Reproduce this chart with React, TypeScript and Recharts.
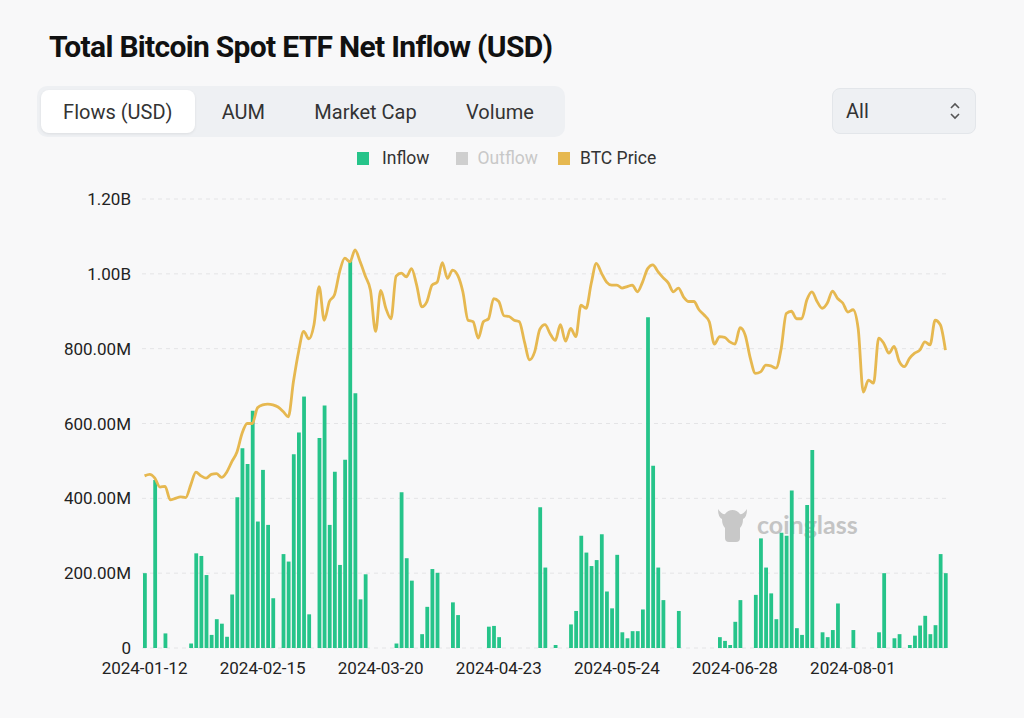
import { ComposedChart, Bar, Line, XAxis, YAxis, CartesianGrid } from "recharts";

// trading days, 2024-01-12 .. 2024-08-27
const dates = [
  "2024-01-12", "2024-01-16", "2024-01-17", "2024-01-18", "2024-01-19",
  "2024-01-22", "2024-01-23", "2024-01-24", "2024-01-25", "2024-01-26",
  "2024-01-29", "2024-01-30", "2024-01-31", "2024-02-01", "2024-02-02",
  "2024-02-05", "2024-02-06", "2024-02-07", "2024-02-08", "2024-02-09",
  "2024-02-12", "2024-02-13", "2024-02-14", "2024-02-15", "2024-02-16",
  "2024-02-20", "2024-02-21", "2024-02-22", "2024-02-23",
  "2024-02-26", "2024-02-27", "2024-02-28", "2024-02-29", "2024-03-01",
  "2024-03-04", "2024-03-05", "2024-03-06", "2024-03-07", "2024-03-08",
  "2024-03-11", "2024-03-12", "2024-03-13", "2024-03-14", "2024-03-15",
  "2024-03-18", "2024-03-19", "2024-03-20", "2024-03-21", "2024-03-22",
  "2024-03-25", "2024-03-26", "2024-03-27", "2024-03-28",
  "2024-04-01", "2024-04-02", "2024-04-03", "2024-04-04", "2024-04-05",
  "2024-04-08", "2024-04-09", "2024-04-10", "2024-04-11", "2024-04-12",
  "2024-04-15", "2024-04-16", "2024-04-17", "2024-04-18", "2024-04-19",
  "2024-04-22", "2024-04-23", "2024-04-24", "2024-04-25", "2024-04-26",
  "2024-04-29", "2024-04-30", "2024-05-01", "2024-05-02", "2024-05-03",
  "2024-05-06", "2024-05-07", "2024-05-08", "2024-05-09", "2024-05-10",
  "2024-05-13", "2024-05-14", "2024-05-15", "2024-05-16", "2024-05-17",
  "2024-05-20", "2024-05-21", "2024-05-22", "2024-05-23", "2024-05-24",
  "2024-05-28", "2024-05-29", "2024-05-30", "2024-05-31",
  "2024-06-03", "2024-06-04", "2024-06-05", "2024-06-06", "2024-06-07",
  "2024-06-10", "2024-06-11", "2024-06-12", "2024-06-13", "2024-06-14",
  "2024-06-17", "2024-06-18", "2024-06-20", "2024-06-21",
  "2024-06-24", "2024-06-25", "2024-06-26", "2024-06-27", "2024-06-28",
  "2024-07-01", "2024-07-02", "2024-07-03", "2024-07-05",
  "2024-07-08", "2024-07-09", "2024-07-10", "2024-07-11", "2024-07-12",
  "2024-07-15", "2024-07-16", "2024-07-17", "2024-07-18", "2024-07-19",
  "2024-07-22", "2024-07-23", "2024-07-24", "2024-07-25", "2024-07-26",
  "2024-07-29", "2024-07-30", "2024-07-31", "2024-08-01", "2024-08-02",
  "2024-08-05", "2024-08-06", "2024-08-07", "2024-08-08", "2024-08-09",
  "2024-08-12", "2024-08-13", "2024-08-14", "2024-08-15", "2024-08-16",
  "2024-08-19", "2024-08-20", "2024-08-21", "2024-08-22", "2024-08-23",
  "2024-08-26", "2024-08-27",
];

// net inflow in millions USD (outflow days hidden -> 0)
const inflowM = [
  200, 0, 449, 0, 39, 0, 0, 0, 0, 12,
  253, 246, 195, 35, 77, 65, 30, 143, 403, 534,
  492, 634, 338, 476, 329, 133, 0, 251, 231,
  518, 576, 672, 90, 0, 561, 648, 329, 471, 222,
  503, 1037, 681, 130, 197, 0, 0, 0, 0, 0,
  12, 416, 240, 180, 0, 37, 110, 211, 201,
  0, 0, 122, 88, 0, 0, 0, 0, 0, 57,
  59, 29, 0, 0, 0, 0, 0, 0, 0, 376,
  215, 0, 8, 0, 0, 63, 99, 300, 255, 219,
  235, 304, 151, 106, 249, 42, 26, 45, 45,
  103, 884, 487, 215, 128, 0, 0, 99, 0, 0,
  0, 0, 0, 0, 0, 29, 19, 8, 70, 128,
  0, 0, 142, 293, 215, 146, 77, 308, 300, 421,
  53, 35, 382, 529, 0, 42, 29, 48, 119, 0,
  0, 48, 0, 0, 0, 0, 42, 200, 0, 26,
  37, 0, 8, 33, 60, 86, 37, 61, 251, 200,
  0,
];

// BTC price in thousands USD
const priceK = [
  43.0, 43.2, 42.7, 41.5, 41.6, 39.8, 40.0, 40.2, 40.1, 41.8,
  43.5, 43.0, 42.7, 43.2, 43.3, 42.8, 43.5, 44.9, 46.2, 48.7,
  50.0, 50.0, 52.1, 52.5, 52.6, 52.5, 52.2, 51.6, 50.9,
  55.6, 59.6, 62.3, 61.3, 63.2, 68.3, 63.8, 66.3, 67.2, 70.3,
  72.1, 71.6, 73.2, 71.6, 69.7, 67.8, 62.3, 67.8, 65.4, 64.0,
  69.7, 70.1, 69.6, 70.7, 68.5, 65.6, 66.3, 68.5, 68.9,
  71.5, 69.4, 70.5, 69.8, 67.6, 63.8, 63.6, 61.4, 63.6, 64.0,
  66.7, 66.3, 64.4, 64.3, 63.8, 63.6, 60.9, 58.5, 59.6, 62.6,
  63.2, 62.0, 61.1, 63.2, 61.0, 62.7, 61.6, 65.8, 65.4, 68.7,
  71.4, 70.1, 68.9, 68.5, 68.5, 68.1, 68.3, 68.5, 67.6,
  68.9, 70.7, 71.2, 70.3, 69.5, 68.8, 67.6, 68.1, 66.9, 66.3,
  66.3, 65.2, 64.5, 63.6, 60.6, 61.6, 61.5, 60.9, 60.6, 62.8,
  61.8, 58.7, 56.7, 56.9, 57.8, 57.7, 57.4, 60.0, 64.7, 65.0,
  64.0, 64.0, 66.5, 67.6, 66.3, 65.4, 66.1, 67.7, 66.7, 66.1,
  64.9, 65.2, 62.7, 54.2, 55.8, 55.4, 61.4, 60.7, 59.4, 60.3,
  58.3, 57.6, 58.7, 59.4, 59.8, 60.9, 60.5, 63.8, 63.2, 59.8,
  59.8,
];

const flowTicks = [0, 200e6, 400e6, 600e6, 800e6, 1000e6, 1200e6];
const tabs = ["Flows (USD)", "AUM", "Market Cap", "Volume"];

const data = dates.map((date, i) => ({
  date,
  inflow: inflowM[i] * 1e6,
  price: priceK[i] * 1000,
}));

const GREEN = "#26c48a";
const GOLD = "#e6b850";
const FONT = "Roboto, 'Noto Sans', sans-serif";

function fmtFlow(v: number) {
  if (v === 0) return "0";
  if (v >= 1e9) return (v / 1e9).toFixed(2) + "B";
  return (v / 1e6).toFixed(2) + "M";
}

function Watermark() {
  return (
    <div
      style={{
        position: "absolute",
        left: 716,
        top: 505,
        display: "flex",
        alignItems: "center",
        gap: 8,
        color: "#c4c4c4",
      }}
    >
      <svg width={33} height={38} viewBox="0 0 33 38">
        <path
          d="M2 4 Q6 10 9 9 Q12 5 16.5 5 Q21 5 24 9 Q27 10 31 4 Q31 12 27 14 Q27 20 24 23 L24 33 Q24 37 20 37 L13 37 Q9 37 9 33 L9 23 Q6 20 6 14 Q2 12 2 4 Z"
          fill="#c8c8c8"
        />
      </svg>
      <span style={{ fontFamily: "Lato, sans-serif", fontWeight: 700, fontSize: 25 }}>
        coinglass
      </span>
    </div>
  );
}

export default function App() {
  return (
    <div
      style={{
        position: "absolute",
        left: 0,
        top: 0,
        width: 1024,
        height: 718,
        background: "#f8f8f9",
        fontFamily: FONT,
        overflow: "hidden",
      }}
    >
      <div
        style={{
          position: "absolute",
          left: 49,
          top: 29,
          fontFamily: "Roboto, sans-serif",
          fontWeight: 700,
          fontSize: 30,
          letterSpacing: -0.7,
          color: "#111",
        }}
      >
        Total Bitcoin Spot ETF Net Inflow (USD)
      </div>

      {/* tab strip */}
      <div
        style={{
          position: "absolute",
          left: 37,
          top: 86,
          width: 528,
          height: 51,
          background: "#eef0f3",
          borderRadius: 10,
          boxSizing: "border-box",
          padding: 4,
          display: "flex",
          alignItems: "center",
        }}
      >
        {tabs.map((t, i) => (
          <div
            key={t}
            style={{
              height: 43,
              width: [156, 99, 149, 124][i],
              display: "flex",
              alignItems: "center",
              justifyContent: "center",
              background: i === 0 ? "#fff" : "transparent",
              borderRadius: 8,
              boxShadow: i === 0 ? "0 1px 3px rgba(0,0,0,0.08)" : "none",
              fontSize: 20,
              color: "#333",
            }}
          >
            {t}
          </div>
        ))}
      </div>

      {/* range select */}
      <div
        style={{
          position: "absolute",
          left: 832,
          top: 88,
          width: 144,
          height: 46,
          boxSizing: "border-box",
          background: "#eef0f3",
          border: "1px solid #e3e6ea",
          borderRadius: 8,
          display: "flex",
          alignItems: "center",
          justifyContent: "space-between",
          padding: "0 14px 0 13px",
          fontSize: 20,
          color: "#333",
        }}
      >
        <span>All</span>
        <svg width={12} height={18} viewBox="0 0 12 18">
          <path d="M2 6 L6 2 L10 6" stroke="#555" strokeWidth={1.6} fill="none" />
          <path d="M2 12 L6 16 L10 12" stroke="#555" strokeWidth={1.6} fill="none" />
        </svg>
      </div>

      {/* legend */}
      <div
        style={{
          position: "absolute",
          left: 357,
          top: 147,
          height: 22,
          display: "flex",
          alignItems: "center",
          fontSize: 17.5,
        }}
      >
        <span style={{ width: 12, height: 13, background: GREEN, marginRight: 13 }} />
        <span style={{ color: "#333", marginRight: 26 }}>Inflow</span>
        <span style={{ width: 12, height: 13, background: "#cfcfcf", marginRight: 10 }} />
        <span style={{ color: "#c8c8c8", marginRight: 20 }}>Outflow</span>
        <span style={{ width: 12, height: 13, background: GOLD, marginRight: 10 }} />
        <span style={{ color: "#333" }}>BTC Price</span>
      </div>

      <Watermark />

      <div style={{ position: "absolute", left: 0, top: 0 }}>
        <ComposedChart
          width={1024}
          height={718}
          data={data}
          margin={{ top: 199, right: 76, bottom: 40, left: 0 }}
        >
          <CartesianGrid
            yAxisId="flow"
            vertical={false}
            stroke="#e4e4e6"
            strokeDasharray="4 4"
          />
          <XAxis
            dataKey="date"
            interval={22}
            height={30}
            tickLine={false}
            axisLine={false}
            tickSize={6}
            tickMargin={8}
            tick={{ fill: "#222", fontSize: 17, fontFamily: FONT }}
          />
          <YAxis
            yAxisId="flow"
            width={142}
            domain={[0, 1.2e9]}
            ticks={flowTicks}
            tickFormatter={fmtFlow}
            tickLine={false}
            axisLine={false}
            tickSize={6}
            tickMargin={5}
            tick={{ fill: "#222", fontSize: 17, fontFamily: FONT }}
          />
          <YAxis yAxisId="price" orientation="right" hide domain={[20000, 80000]} />
          <Bar
            yAxisId="flow"
            dataKey="inflow"
            fill={GREEN}
            barSize={3.8}
            isAnimationActive={false}
          />
          <Line
            yAxisId="price"
            type="monotone"
            dataKey="price"
            stroke={GOLD}
            strokeWidth={2.8}
            dot={false}
            isAnimationActive={false}
          />
        </ComposedChart>
      </div>
    </div>
  );
}
